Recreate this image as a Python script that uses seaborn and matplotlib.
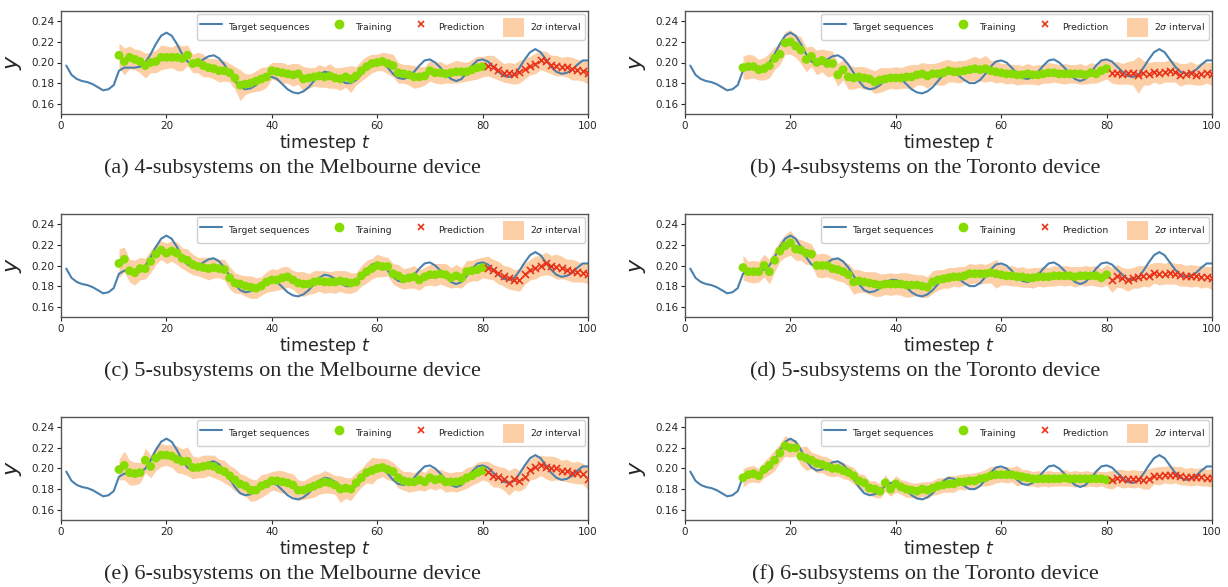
import matplotlib
matplotlib.use('Agg')
import matplotlib.pyplot as plt
from matplotlib.lines import Line2D
from matplotlib.patches import Patch
import numpy as np
import pandas as pd
import seaborn as sns

# Shared target sequence, t = 1..100
timesteps = np.arange(1, 101)
target = [0.197, 0.188, 0.184, 0.182, 0.181, 0.179, 0.176, 0.173, 0.174, 0.178,
          0.192, 0.195, 0.195, 0.195, 0.196, 0.200, 0.208, 0.218, 0.226, 0.229,
          0.226, 0.218, 0.208, 0.201, 0.198, 0.199, 0.203, 0.206, 0.207, 0.204,
          0.198, 0.190, 0.182, 0.176, 0.174, 0.175, 0.178, 0.183, 0.186, 0.186,
          0.184, 0.179, 0.174, 0.171, 0.170, 0.172, 0.176, 0.182, 0.188, 0.191,
          0.190, 0.187, 0.183, 0.180, 0.180, 0.183, 0.189, 0.196, 0.201, 0.202,
          0.200, 0.195, 0.189, 0.185, 0.184, 0.186, 0.191, 0.197, 0.202, 0.203,
          0.200, 0.195, 0.189, 0.184, 0.182, 0.184, 0.190, 0.197, 0.202, 0.203,
          0.201, 0.196, 0.191, 0.187, 0.186, 0.188, 0.195, 0.203, 0.210, 0.213,
          0.210, 0.203, 0.196, 0.191, 0.189, 0.190, 0.193, 0.198, 0.202, 0.202]

train_t = np.arange(11, 81)
pred_t = np.arange(81, 101)

# (a) 4-subsystems Melbourne
train_a = [0.207, 0.201, 0.205, 0.203, 0.201, 0.197, 0.200, 0.201, 0.205, 0.205,
           0.205, 0.205, 0.204, 0.207, 0.199, 0.200, 0.197, 0.195, 0.194, 0.192,
           0.192, 0.190, 0.185, 0.178, 0.179, 0.180, 0.182, 0.184, 0.186, 0.192,
           0.191, 0.190, 0.189, 0.188, 0.189, 0.184, 0.185, 0.186, 0.187, 0.186,
           0.187, 0.185, 0.184, 0.186, 0.184, 0.187, 0.192, 0.196, 0.199, 0.200,
           0.201, 0.199, 0.197, 0.190, 0.189, 0.188, 0.186, 0.186, 0.187, 0.192,
           0.190, 0.190, 0.189, 0.190, 0.191, 0.191, 0.191, 0.193, 0.195, 0.196]
pred_a = [0.197, 0.196, 0.193, 0.190, 0.190, 0.189, 0.191, 0.194, 0.197, 0.199,
          0.202, 0.201, 0.198, 0.197, 0.196, 0.196, 0.194, 0.193, 0.192, 0.190]
band_a = [0.012, 0.013, 0.011, 0.010, 0.011, 0.012, 0.010, 0.011, 0.012, 0.011,
          0.010, 0.013, 0.012, 0.010, 0.009, 0.010, 0.011, 0.009, 0.010, 0.011,
          0.010, 0.009, 0.011, 0.015, 0.010, 0.009, 0.010, 0.011, 0.010, 0.008,
          0.009, 0.010, 0.009, 0.011, 0.010, 0.012, 0.010, 0.009, 0.011, 0.010,
          0.012, 0.010, 0.011, 0.010, 0.013, 0.009, 0.010, 0.010, 0.009, 0.008,
          0.009, 0.010, 0.011, 0.010, 0.009, 0.010, 0.011, 0.010, 0.009, 0.010,
          0.010, 0.011, 0.009, 0.010, 0.011, 0.010, 0.009, 0.010, 0.011, 0.010,
          0.010, 0.011, 0.010, 0.009, 0.010, 0.010, 0.011, 0.010, 0.009, 0.010,
          0.009, 0.010, 0.009, 0.010, 0.009, 0.010, 0.011, 0.010, 0.010, 0.011]

# (b) 4-subsystems Toronto
train_b = [0.195, 0.196, 0.196, 0.193, 0.194, 0.197, 0.204, 0.208, 0.219, 0.220,
           0.216, 0.212, 0.203, 0.206, 0.200, 0.202, 0.199, 0.199, 0.188, 0.193,
           0.186, 0.185, 0.186, 0.185, 0.184, 0.181, 0.183, 0.184, 0.185, 0.185,
           0.185, 0.186, 0.186, 0.188, 0.189, 0.187, 0.189, 0.189, 0.190, 0.192,
           0.191, 0.191, 0.192, 0.193, 0.194, 0.193, 0.194, 0.192, 0.191, 0.190,
           0.189, 0.189, 0.188, 0.188, 0.189, 0.188, 0.188, 0.189, 0.190, 0.190,
           0.189, 0.189, 0.189, 0.189, 0.189, 0.188, 0.190, 0.189, 0.192, 0.194]
pred_b = [0.190, 0.190, 0.189, 0.190, 0.190, 0.188, 0.190, 0.189, 0.191, 0.190,
          0.191, 0.192, 0.191, 0.188, 0.189, 0.190, 0.188, 0.189, 0.190, 0.189]
band_b = [0.011, 0.012, 0.011, 0.010, 0.011, 0.012, 0.011, 0.010, 0.011, 0.012,
          0.011, 0.013, 0.012, 0.010, 0.012, 0.011, 0.013, 0.012, 0.011, 0.010,
          0.012, 0.011, 0.010, 0.011, 0.010, 0.011, 0.012, 0.011, 0.010, 0.011,
          0.010, 0.011, 0.012, 0.010, 0.011, 0.012, 0.010, 0.011, 0.012, 0.011,
          0.010, 0.011, 0.010, 0.011, 0.012, 0.011, 0.013, 0.010, 0.011, 0.009,
          0.010, 0.009, 0.010, 0.009, 0.010, 0.009, 0.010, 0.009, 0.010, 0.009,
          0.009, 0.010, 0.009, 0.009, 0.010, 0.009, 0.010, 0.009, 0.010, 0.010,
          0.010, 0.011, 0.010, 0.011, 0.012, 0.018, 0.012, 0.011, 0.010, 0.011,
          0.010, 0.011, 0.010, 0.011, 0.010, 0.011, 0.010, 0.011, 0.010, 0.011]

# (c) 5-subsystems Melbourne
train_c = [0.202, 0.206, 0.195, 0.193, 0.197, 0.197, 0.204, 0.211, 0.215, 0.212,
           0.214, 0.212, 0.207, 0.205, 0.201, 0.199, 0.198, 0.197, 0.198, 0.197,
           0.196, 0.188, 0.183, 0.182, 0.180, 0.179, 0.178, 0.180, 0.184, 0.186,
           0.186, 0.188, 0.189, 0.186, 0.183, 0.182, 0.182, 0.184, 0.185, 0.184,
           0.184, 0.184, 0.185, 0.184, 0.183, 0.184, 0.190, 0.194, 0.197, 0.200,
           0.199, 0.199, 0.192, 0.190, 0.187, 0.188, 0.189, 0.186, 0.189, 0.191,
           0.191, 0.192, 0.191, 0.188, 0.190, 0.188, 0.194, 0.195, 0.196, 0.198]
pred_c = [0.198, 0.196, 0.193, 0.190, 0.188, 0.186, 0.186, 0.192, 0.196, 0.198,
          0.200, 0.202, 0.200, 0.199, 0.198, 0.196, 0.195, 0.194, 0.193, 0.192]
band_c = [0.014, 0.012, 0.011, 0.012, 0.011, 0.010, 0.011, 0.010, 0.009, 0.010,
          0.010, 0.011, 0.010, 0.011, 0.010, 0.009, 0.010, 0.011, 0.010, 0.009,
          0.010, 0.011, 0.010, 0.009, 0.010, 0.011, 0.010, 0.009, 0.010, 0.011,
          0.010, 0.011, 0.010, 0.009, 0.011, 0.012, 0.010, 0.011, 0.010, 0.011,
          0.010, 0.011, 0.010, 0.011, 0.010, 0.009, 0.010, 0.011, 0.010, 0.011,
          0.010, 0.009, 0.010, 0.011, 0.010, 0.010, 0.011, 0.010, 0.009, 0.010,
          0.011, 0.010, 0.011, 0.010, 0.011, 0.010, 0.011, 0.010, 0.011, 0.010,
          0.011, 0.010, 0.011, 0.010, 0.011, 0.010, 0.011, 0.010, 0.010, 0.011,
          0.010, 0.011, 0.010, 0.012, 0.011, 0.010, 0.011, 0.010, 0.009, 0.010]

# (d) 5-subsystems Toronto
train_d = [0.198, 0.194, 0.194, 0.194, 0.200, 0.194, 0.205, 0.214, 0.219, 0.222,
           0.216, 0.215, 0.212, 0.211, 0.200, 0.200, 0.200, 0.197, 0.196, 0.194,
           0.191, 0.184, 0.185, 0.184, 0.183, 0.182, 0.181, 0.182, 0.182, 0.182,
           0.182, 0.181, 0.181, 0.181, 0.180, 0.179, 0.184, 0.186, 0.187, 0.188,
           0.189, 0.189, 0.190, 0.192, 0.192, 0.192, 0.192, 0.193, 0.192, 0.191,
           0.190, 0.190, 0.189, 0.189, 0.188, 0.188, 0.189, 0.189, 0.189, 0.190,
           0.190, 0.190, 0.190, 0.189, 0.190, 0.190, 0.190, 0.190, 0.188, 0.191]
pred_d = [0.186, 0.190, 0.188, 0.186, 0.188, 0.189, 0.190, 0.190, 0.193, 0.192,
          0.192, 0.193, 0.192, 0.191, 0.190, 0.190, 0.190, 0.189, 0.189, 0.188]
band_d = [0.012, 0.010, 0.011, 0.010, 0.011, 0.012, 0.011, 0.010, 0.011, 0.012,
          0.011, 0.010, 0.011, 0.010, 0.011, 0.012, 0.011, 0.010, 0.011, 0.010,
          0.011, 0.012, 0.011, 0.010, 0.011, 0.012, 0.011, 0.010, 0.011, 0.010,
          0.011, 0.012, 0.011, 0.010, 0.011, 0.010, 0.011, 0.010, 0.009, 0.010,
          0.009, 0.010, 0.009, 0.010, 0.009, 0.010, 0.009, 0.010, 0.014, 0.010,
          0.009, 0.010, 0.009, 0.010, 0.009, 0.010, 0.009, 0.010, 0.009, 0.010,
          0.009, 0.010, 0.009, 0.010, 0.009, 0.010, 0.009, 0.010, 0.009, 0.010,
          0.012, 0.011, 0.010, 0.011, 0.010, 0.011, 0.010, 0.011, 0.010, 0.011,
          0.010, 0.011, 0.010, 0.011, 0.010, 0.011, 0.010, 0.011, 0.010, 0.011]

# (e) 6-subsystems Melbourne
train_e = [0.199, 0.203, 0.196, 0.195, 0.196, 0.208, 0.202, 0.210, 0.213, 0.213,
           0.212, 0.209, 0.207, 0.207, 0.201, 0.201, 0.202, 0.203, 0.202, 0.199,
           0.197, 0.193, 0.189, 0.185, 0.183, 0.179, 0.179, 0.183, 0.185, 0.188,
           0.188, 0.187, 0.186, 0.184, 0.179, 0.179, 0.181, 0.183, 0.185, 0.187,
           0.186, 0.184, 0.180, 0.181, 0.180, 0.186, 0.191, 0.196, 0.198, 0.200,
           0.201, 0.199, 0.197, 0.191, 0.188, 0.187, 0.187, 0.189, 0.187, 0.191,
           0.189, 0.190, 0.187, 0.187, 0.187, 0.188, 0.191, 0.193, 0.196, 0.198]
pred_e = [0.197, 0.193, 0.192, 0.190, 0.186, 0.190, 0.188, 0.192, 0.199, 0.201,
          0.203, 0.201, 0.200, 0.200, 0.198, 0.198, 0.196, 0.196, 0.195, 0.190]
band_e = [0.010, 0.014, 0.012, 0.011, 0.010, 0.012, 0.011, 0.012, 0.011, 0.010,
          0.011, 0.013, 0.012, 0.014, 0.011, 0.010, 0.011, 0.010, 0.011, 0.010,
          0.011, 0.010, 0.011, 0.010, 0.010, 0.011, 0.010, 0.011, 0.010, 0.009,
          0.010, 0.011, 0.010, 0.011, 0.010, 0.009, 0.010, 0.011, 0.010, 0.011,
          0.010, 0.009, 0.013, 0.010, 0.011, 0.010, 0.009, 0.010, 0.013, 0.010,
          0.009, 0.010, 0.009, 0.010, 0.009, 0.010, 0.009, 0.010, 0.009, 0.010,
          0.010, 0.009, 0.010, 0.009, 0.010, 0.009, 0.010, 0.009, 0.010, 0.009,
          0.010, 0.011, 0.010, 0.011, 0.012, 0.011, 0.010, 0.011, 0.010, 0.011,
          0.010, 0.011, 0.012, 0.011, 0.010, 0.011, 0.010, 0.011, 0.010, 0.011]

# (f) 6-subsystems Toronto
train_f = [0.191, 0.194, 0.195, 0.193, 0.199, 0.203, 0.208, 0.215, 0.222, 0.220,
           0.220, 0.212, 0.210, 0.208, 0.205, 0.204, 0.202, 0.200, 0.200, 0.198,
           0.196, 0.193, 0.188, 0.186, 0.181, 0.180, 0.178, 0.186, 0.180, 0.185,
           0.182, 0.180, 0.179, 0.178, 0.180, 0.179, 0.181, 0.183, 0.184, 0.185,
           0.185, 0.187, 0.187, 0.188, 0.188, 0.190, 0.191, 0.193, 0.194, 0.194,
           0.194, 0.194, 0.193, 0.192, 0.191, 0.190, 0.190, 0.190, 0.190, 0.190,
           0.190, 0.191, 0.190, 0.190, 0.190, 0.190, 0.190, 0.190, 0.190, 0.189]
pred_f = [0.189, 0.191, 0.190, 0.190, 0.190, 0.190, 0.189, 0.190, 0.193, 0.193,
          0.194, 0.194, 0.194, 0.193, 0.192, 0.192, 0.192, 0.192, 0.191, 0.191]
band_f = [0.009, 0.008, 0.008, 0.007, 0.008, 0.009, 0.010, 0.009, 0.010, 0.009,
          0.008, 0.009, 0.012, 0.008, 0.009, 0.008, 0.009, 0.008, 0.007, 0.008,
          0.007, 0.008, 0.007, 0.008, 0.007, 0.008, 0.007, 0.008, 0.007, 0.008,
          0.007, 0.008, 0.007, 0.008, 0.007, 0.008, 0.007, 0.008, 0.007, 0.008,
          0.008, 0.007, 0.008, 0.007, 0.008, 0.007, 0.008, 0.009, 0.008, 0.007,
          0.008, 0.007, 0.010, 0.007, 0.008, 0.007, 0.008, 0.007, 0.008, 0.007,
          0.007, 0.008, 0.007, 0.008, 0.007, 0.008, 0.007, 0.008, 0.007, 0.008,
          0.009, 0.008, 0.009, 0.008, 0.009, 0.008, 0.009, 0.010, 0.008, 0.009,
          0.008, 0.009, 0.008, 0.009, 0.008, 0.009, 0.008, 0.009, 0.008, 0.009]

captions = ['(a) 4-subsystems on the Melbourne device',
            '(b) 4-subsystems on the Toronto device',
            '(c) 5-subsystems on the Melbourne device',
            '(d) 5-subsystems on the Toronto device',
            '(e) 6-subsystems on the Melbourne device',
            '(f) 6-subsystems on the Toronto device']
trains = [train_a, train_b, train_c, train_d, train_e, train_f]
preds = [pred_a, pred_b, pred_c, pred_d, pred_e, pred_f]
bands = [band_a, band_b, band_c, band_d, band_e, band_f]

sns.set_style('ticks')

C_LINE = '#4a80ad'
C_TRAIN = '#86dc00'
C_PRED = '#e8321a'
C_BAND = '#fccfa6'

W, H = 1228, 587
fig = plt.figure(figsize=(W / 100, H / 100), dpi=100)

col_left = [61, 685]
col_cap = [292, 925]
row_top = [11, 214, 417]
ax_w, ax_h = 527, 103

target_df = pd.DataFrame({'t': timesteps, 'y': target})

for i in range(6):
    r, c = divmod(i, 2)
    ax = fig.add_axes([col_left[c] / W, 1 - (row_top[r] + ax_h) / H, ax_w / W, ax_h / H])

    mean = np.array(trains[i] + preds[i])
    half = np.array(bands[i])
    ax.fill_between(np.concatenate([train_t, pred_t]), mean - half, mean + half,
                    color=C_BAND, linewidth=0, zorder=1)
    sns.lineplot(data=target_df, x='t', y='y', ax=ax, color=C_LINE, linewidth=1.5, zorder=2)
    sns.scatterplot(x=train_t, y=trains[i], ax=ax, color=C_TRAIN, s=40,
                    edgecolor='none', zorder=3)
    sns.scatterplot(x=pred_t, y=preds[i], ax=ax, color=C_PRED, marker='x', s=26,
                    linewidth=1.2, zorder=3)

    ax.set_xlim(0, 100)
    ax.set_ylim(0.15, 0.25)
    ax.set_xticks([0, 20, 40, 60, 80, 100])
    ax.set_yticks([0.16, 0.18, 0.20, 0.22, 0.24])
    ax.set_yticklabels(['0.16', '0.18', '0.20', '0.22', '0.24'])
    ax.tick_params(labelsize=7.5, length=3, width=0.8, pad=2)
    for sp in ax.spines.values():
        sp.set_color('#555555')
        sp.set_linewidth(1.0)
    ax.set_xlabel('timestep $t$', fontsize=12.5, labelpad=1)
    ax.set_ylabel('$y$', fontsize=16, labelpad=5)

    handles = [Line2D([], [], color=C_LINE, linewidth=1.5),
               Line2D([], [], color=C_TRAIN, marker='o', linestyle='none', markersize=6),
               Line2D([], [], color=C_PRED, marker='x', linestyle='none', markersize=5,
                      markeredgewidth=1.2),
               Patch(facecolor=C_BAND, edgecolor='none')]
    ax.legend(handles, ['Target sequences', 'Training', 'Prediction', r'2$\sigma$ interval'],
              loc='upper right', ncol=4, fontsize=6.7, frameon=True, borderaxespad=0.35,
              columnspacing=2.0, handlelength=2.3, handleheight=2.8, handletextpad=0.65,
              borderpad=0.35, framealpha=0.9, edgecolor='#cccccc', fancybox=True)

    fig.text(col_cap[c] / W, 1 - (row_top[r] + 157) / H, captions[i],
             ha='center', va='center', fontsize=16, family='Liberation Serif')

fig.savefig('out.png', dpi=100)
